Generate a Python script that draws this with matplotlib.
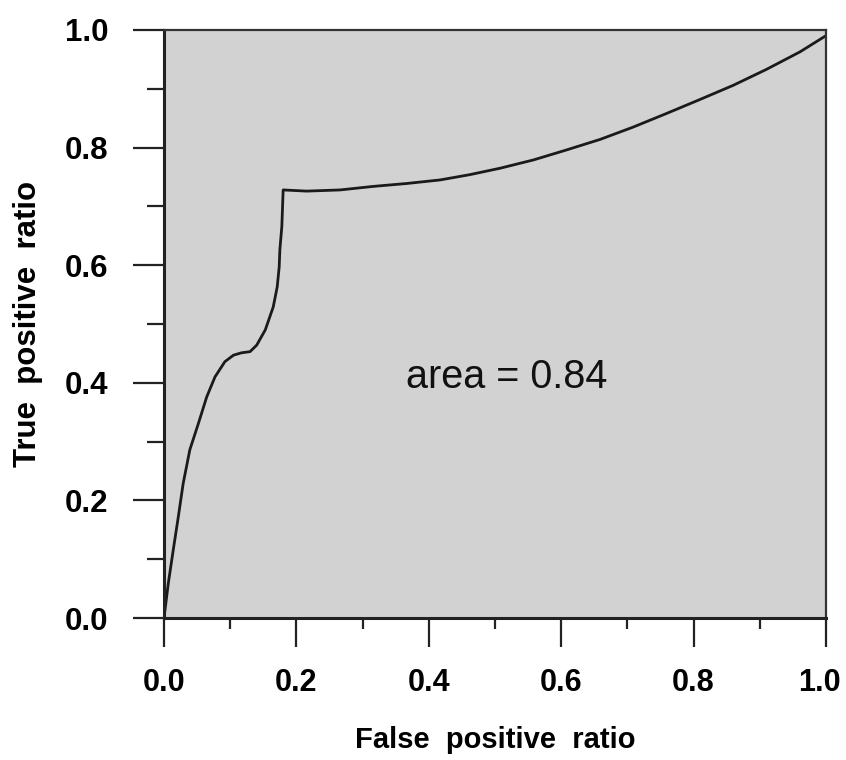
import numpy as np
import matplotlib
matplotlib.use("Agg")
import matplotlib.pyplot as plt
import matplotlib.transforms as mtransforms
from matplotlib.ticker import MultipleLocator, FormatStrFormatter

# ---------------- Data ----------------
fpr = [0.0, 0.0065, 0.014, 0.0216, 0.029, 0.039, 0.052, 0.0645, 0.077, 0.092,
       0.105, 0.117, 0.130, 0.140, 0.153, 0.165, 0.171, 0.174, 0.175, 0.178,
       0.180, 0.2155, 0.266, 0.316, 0.367, 0.417, 0.462, 0.508, 0.558, 0.608,
       0.659, 0.709, 0.759, 0.810, 0.860, 0.910, 0.961, 0.998]
tpr = [0.0, 0.059, 0.116, 0.172, 0.229, 0.286, 0.331, 0.376, 0.410, 0.436,
       0.447, 0.451, 0.453, 0.464, 0.490, 0.529, 0.563, 0.597, 0.626, 0.666,
       0.728, 0.726, 0.728, 0.734, 0.739, 0.745, 0.754, 0.765, 0.779, 0.796,
       0.814, 0.835, 0.858, 0.882, 0.906, 0.933, 0.963, 0.989]
area_text = "area = 0.84"

plt.rcParams['font.family'] = ['Liberation Sans', 'DejaVu Sans']

fig = plt.figure(figsize=(8.46, 7.6), dpi=100)
ax = fig.add_axes([164/846, 1 - 618/760, 662/846, 588/760])
ax.set_facecolor('#d2d2d2')

ax.plot(fpr, tpr, color='#1a1a1a', lw=2.0, solid_joinstyle='round')
ax.text(0.518, 0.41, area_text, fontsize=28.5, ha='center', va='center', color='#111111')

ax.set_xlim(0, 1)
ax.set_ylim(0, 1)
ax.xaxis.set_major_locator(MultipleLocator(0.2))
ax.xaxis.set_minor_locator(MultipleLocator(0.1))
ax.yaxis.set_major_locator(MultipleLocator(0.2))
ax.yaxis.set_minor_locator(MultipleLocator(0.1))
ax.xaxis.set_major_formatter(FormatStrFormatter('%.1f'))
ax.yaxis.set_major_formatter(FormatStrFormatter('%.1f'))

ax.tick_params(axis='x', which='major', direction='out', length=21, width=1.6,
               color='#222222', labelsize=22, pad=15)
ax.tick_params(axis='x', which='minor', direction='out', length=8, width=1.6, color='#222222')
ax.tick_params(axis='y', which='major', direction='out', length=22, width=1.6,
               color='#222222', labelsize=22.5, pad=18)
ax.tick_params(axis='y', which='minor', direction='out', length=12, width=1.6, color='#222222')
for lab in ax.get_xticklabels() + ax.get_yticklabels():
    lab.set_fontweight('bold')

for side in ['left', 'bottom']:
    ax.spines[side].set_linewidth(2.2)
    ax.spines[side].set_color('#222222')
for side in ['top', 'right']:
    ax.spines[side].set_linewidth(1.6)
    ax.spines[side].set_color('#333333')

ax.set_xlabel("False  positive  ratio", fontsize=21, fontweight='bold', labelpad=20)
ax.set_ylabel("True  positive  ratio", fontsize=22.5, fontweight='bold', labelpad=16)

# nudge the last x label so it stays inside the figure
fig.canvas.draw()
for lab in ax.get_xticklabels():
    if lab.get_text() == '1.0':
        lab.set_transform(lab.get_transform() +
                          mtransforms.ScaledTranslation(-5/72, 0, fig.dpi_scale_trans))

fig.savefig("out.png", dpi=100, facecolor='white')
